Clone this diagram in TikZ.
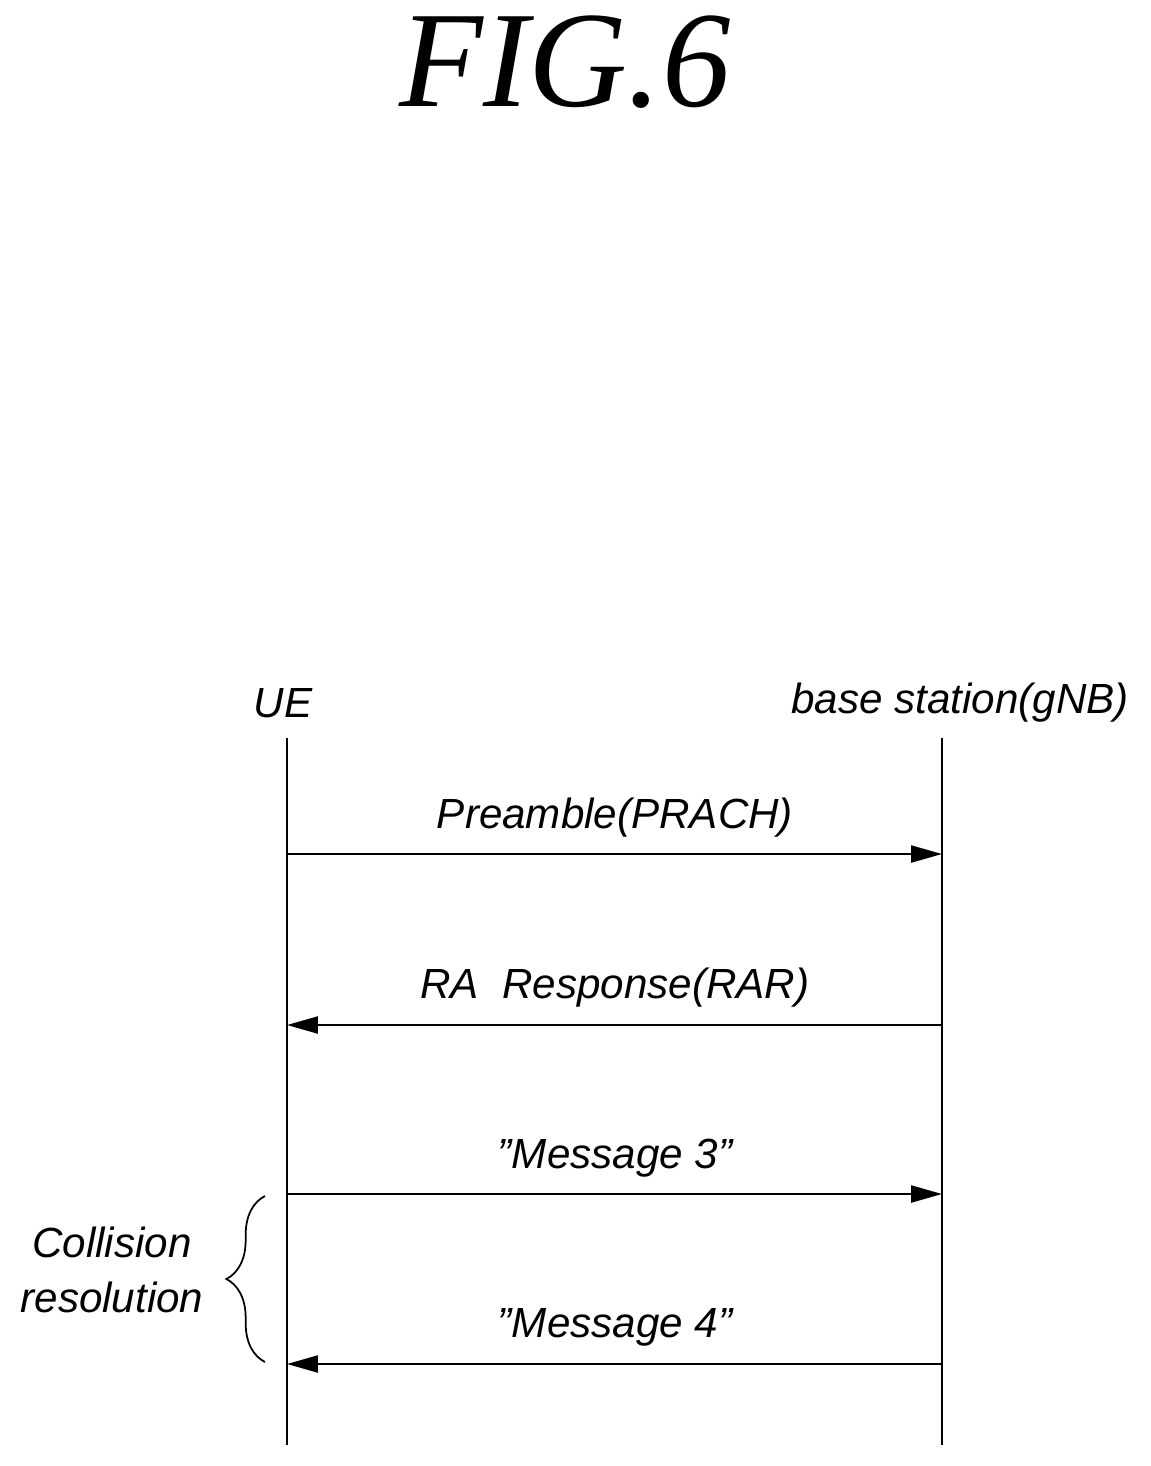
\documentclass[tikz,border=0pt]{standalone}
\usepackage{fontspec}
\setsansfont{Liberation Sans}
\setmainfont{Liberation Serif}
\usetikzlibrary{arrows.meta,decorations.pathreplacing}
\tikzset{
    lbl/.style={font=\sffamily\itshape\fontsize{24}{31}\selectfont, inner sep=0pt},
    msg/.style={-{Triangle[length=0.62cm,width=0.34cm]}, line width=1.3pt},
    life/.style={line width=1.5pt}
}
\newcommand{\dq}{\symbol{34}}
\begin{document}
\begin{tikzpicture}[x=0.02cm,y=-0.02cm]
    \useasboundingbox (0,0) rectangle (1151,1466);
    % Title
    \node (title) at (565,62) {\fontsize{78}{80}\selectfont\itshape FIG.6};

    % Lifeline heads
    \node[lbl] (ue) at (283,703) {UE};
    \node[lbl] (gnb) at (960,703) {base station(gNB)};
    \coordinate (ueTop) at (287,738);
    \coordinate (ueBot) at (287,1445);
    \coordinate (gnbTop) at (942,738);
    \coordinate (gnbBot) at (942,1445);
    \draw[life] (ueTop) -- (ueBot);
    \draw[life] (gnbTop) -- (gnbBot);

    % Messages
    \coordinate (u1) at (287,854);  \coordinate (g1) at (942,854);
    \coordinate (u2) at (287,1025); \coordinate (g2) at (942,1025);
    \coordinate (u3) at (287,1194); \coordinate (g3) at (942,1194);
    \coordinate (u4) at (287,1364); \coordinate (g4) at (942,1364);
    \draw[msg] (u1) -- (g1);
    \draw[msg] (g2) -- (u2);
    \draw[msg] (u3) -- (g3);
    \draw[msg] (g4) -- (u4);
    \node[lbl] (m1) at (615,818) {Preamble(PRACH)};
    \node[lbl] (m2) at (615,988) {RA\ \ Response(RAR)};
    \node[lbl] (m3) at (615,1158) {\dq Message 3\dq};
    \node[lbl] (m4) at (615,1327) {\dq Message 4\dq};

    % Collision resolution brace
    \coordinate (bTop) at (265,1196);
    \coordinate (bBot) at (265,1362);
    \draw[line width=1pt, decorate, decoration={brace, amplitude=22}] (bBot) -- (bTop);
    \node[lbl, align=center] (coll) at (112,1270) {Collision\\resolution};
\end{tikzpicture}
\end{document}
